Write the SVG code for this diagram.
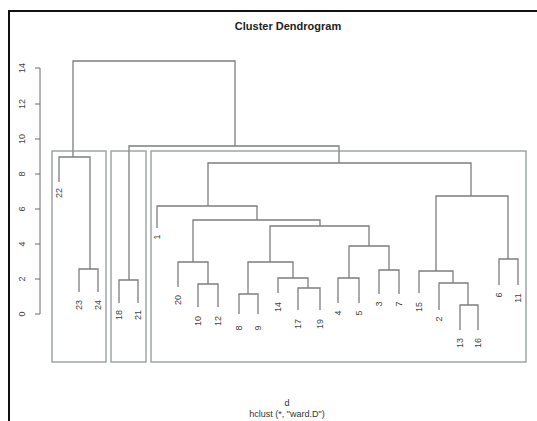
<svg xmlns="http://www.w3.org/2000/svg" width="537" height="421" viewBox="0 0 537 421">
<style>
.frame{fill:none;stroke:#111;stroke-width:2}
.br{fill:none;stroke:#7d7d7d;stroke-width:1.3}
.rc{fill:none;stroke:#8f9898;stroke-width:1.3}
.ax{fill:none;stroke:#6a6a6a;stroke-width:1}
.lb{font-family:"Liberation Sans",Arial,sans-serif;font-size:9px;fill:#444;text-anchor:middle}
.title{font-family:"Liberation Sans",Arial,sans-serif;font-size:11px;font-weight:bold;fill:#222;text-anchor:middle}
.sub{font-family:"Liberation Sans",Arial,sans-serif;font-size:9px;fill:#333;text-anchor:middle}
</style>
<rect width="537" height="421" fill="#fff"/>
<path class="frame" d="M9,421 V11 H537"/>
<text class="title" x="288" y="30">Cluster Dendrogram</text>
<g id="yaxis">
<path class="ax" d="M40,68 V314 M35,314 H40 M35,279 H40 M35,244 H40 M35,209 H40 M35,174 H40 M35,139 H40 M35,104 H40 M35,68 H40"/>
<text class="lb" transform="translate(22,314) rotate(-90)" dy="0.35em">0</text>
<text class="lb" transform="translate(22,279) rotate(-90)" dy="0.35em">2</text>
<text class="lb" transform="translate(22,244) rotate(-90)" dy="0.35em">4</text>
<text class="lb" transform="translate(22,209) rotate(-90)" dy="0.35em">6</text>
<text class="lb" transform="translate(22,174) rotate(-90)" dy="0.35em">8</text>
<text class="lb" transform="translate(22,139) rotate(-90)" dy="0.35em">10</text>
<text class="lb" transform="translate(22,104) rotate(-90)" dy="0.35em">12</text>
<text class="lb" transform="translate(22,68) rotate(-90)" dy="0.35em">14</text>
</g>
<g id="connectors">
<path class="br" d="M73,157 V61 H235 V146"/>
<path class="br" d="M59,182 V157 H90 V269"/>
<path class="br" d="M79,292 V269 H98 V292"/>
<path class="br" d="M129,280 V146 H339 V163"/>
<path class="br" d="M119,303 V280 H138 V303"/>
<path class="br" d="M208,206 V163 H471 V196"/>
<path class="br" d="M157,228 V206 H257 V220"/>
<path class="br" d="M193,262 V220 H320 V226"/>
<path class="br" d="M178,287 V262 H208 V284"/>
<path class="br" d="M198,307 V284 H218 V307"/>
<path class="br" d="M270,262 V226 H369 V246"/>
<path class="br" d="M248,294 V262 H293 V278"/>
<path class="br" d="M239,314 V294 H258 V314"/>
<path class="br" d="M278,293 V278 H308 V288"/>
<path class="br" d="M298,310 V288 H320 V310"/>
<path class="br" d="M349,278 V246 H389 V270"/>
<path class="br" d="M338,303 V278 H359 V303"/>
<path class="br" d="M379,294 V270 H399 V294"/>
<path class="br" d="M436,271 V196 H508 V259"/>
<path class="br" d="M419,293 V271 H453 V283"/>
<path class="br" d="M439,310 V283 H468 V305"/>
<path class="br" d="M460,330 V305 H478 V330"/>
<path class="br" d="M499,285 V259 H518 V285"/>
</g>
<g id="clusters">
<rect id="k1" class="rc" x="52" y="151" width="54" height="211"/>
<rect id="k2" class="rc" x="111" y="151" width="35" height="211"/>
<rect id="k3" class="rc" x="151" y="151" width="375" height="211"/>
</g>
<g id="leaves">
<g id="n22"><text class="lb" transform="translate(59,193) rotate(-90)" dy="0.35em">22</text></g>
<g id="n23"><text class="lb" transform="translate(79,305) rotate(-90)" dy="0.35em">23</text></g>
<g id="n24"><text class="lb" transform="translate(98,305) rotate(-90)" dy="0.35em">24</text></g>
<g id="n18"><text class="lb" transform="translate(119,315) rotate(-90)" dy="0.35em">18</text></g>
<g id="n21"><text class="lb" transform="translate(138,315) rotate(-90)" dy="0.35em">21</text></g>
<g id="n1"><text class="lb" transform="translate(157,237) rotate(-90)" dy="0.35em">1</text></g>
<g id="n20"><text class="lb" transform="translate(178,300) rotate(-90)" dy="0.35em">20</text></g>
<g id="n10"><text class="lb" transform="translate(198,321) rotate(-90)" dy="0.35em">10</text></g>
<g id="n12"><text class="lb" transform="translate(218,321) rotate(-90)" dy="0.35em">12</text></g>
<g id="n8"><text class="lb" transform="translate(239,328) rotate(-90)" dy="0.35em">8</text></g>
<g id="n9"><text class="lb" transform="translate(258,328) rotate(-90)" dy="0.35em">9</text></g>
<g id="n14"><text class="lb" transform="translate(278,307) rotate(-90)" dy="0.35em">14</text></g>
<g id="n17"><text class="lb" transform="translate(298,324) rotate(-90)" dy="0.35em">17</text></g>
<g id="n19"><text class="lb" transform="translate(320,324) rotate(-90)" dy="0.35em">19</text></g>
<g id="n4"><text class="lb" transform="translate(338,313) rotate(-90)" dy="0.35em">4</text></g>
<g id="n5"><text class="lb" transform="translate(359,313) rotate(-90)" dy="0.35em">5</text></g>
<g id="n3"><text class="lb" transform="translate(379,304) rotate(-90)" dy="0.35em">3</text></g>
<g id="n7"><text class="lb" transform="translate(399,304) rotate(-90)" dy="0.35em">7</text></g>
<g id="n15"><text class="lb" transform="translate(419,307) rotate(-90)" dy="0.35em">15</text></g>
<g id="n2"><text class="lb" transform="translate(439,319) rotate(-90)" dy="0.35em">2</text></g>
<g id="n13"><text class="lb" transform="translate(460,343) rotate(-90)" dy="0.35em">13</text></g>
<g id="n16"><text class="lb" transform="translate(478,343) rotate(-90)" dy="0.35em">16</text></g>
<g id="n6"><text class="lb" transform="translate(499,295) rotate(-90)" dy="0.35em">6</text></g>
<g id="n11"><text class="lb" transform="translate(518,298) rotate(-90)" dy="0.35em">11</text></g>
</g>
<text class="sub" x="287" y="406">d</text>
<text class="sub" x="287" y="417">hclust (*, "ward.D")</text>
</svg>
